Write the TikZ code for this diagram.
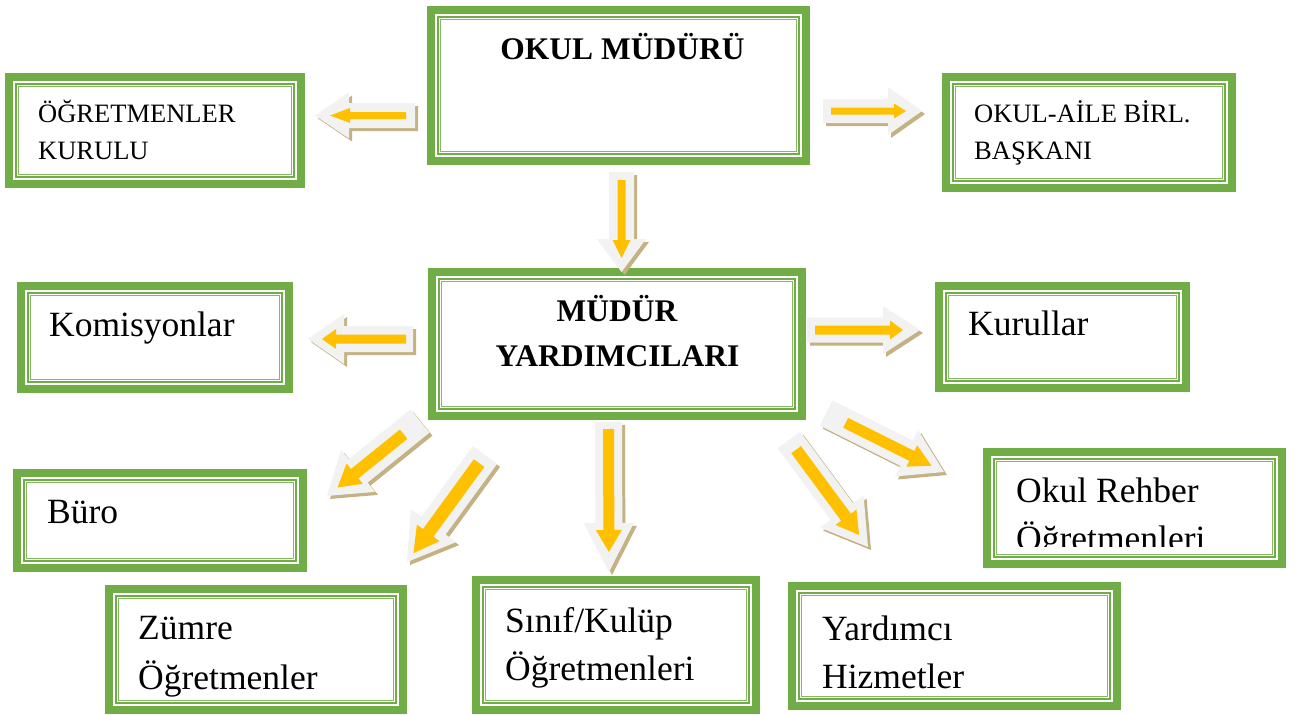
\documentclass[tikz,border=0pt]{standalone}
\usepackage{fontspec}
\setmainfont{Liberation Serif}
\usetikzlibrary{calc}
\definecolor{boxgreen}{HTML}{70AD47}
\definecolor{arrowgray}{HTML}{F2F2F2}
\definecolor{arrowyellow}{HTML}{FFC000}
\definecolor{arrowtan}{HTML}{C4B283}

% #1 tail, #2 tip, #3 start inset, #4 end inset, #5 shaft half, #6 head half, #7 head length, #8 style
\newcommand\blockpoly[8]{%
  \path[#8] let \p1=(#1), \p2=(#2),
    \n1={atan2(\y2-\y1,\x2-\x1)}, \n2={veclen(\x2-\x1,\y2-\y1)},
    \n3={(#3)*1pt}, \n4={\n2-(#4)*1pt}, \n5={\n2-(#4)*1pt-(#7)*1pt}, \n6={\n1+90}, \n7={\n1-90} in
    ($(\p1)+(\n1:\n3)+(\n6:#5pt)$) -- ($(\p1)+(\n1:\n5)+(\n6:#5pt)$) --
    ($(\p1)+(\n1:\n5)+(\n6:#6pt)$) -- ($(\p1)+(\n1:\n4)$) --
    ($(\p1)+(\n1:\n5)+(\n7:#6pt)$) -- ($(\p1)+(\n1:\n5)+(\n7:#5pt)$) --
    ($(\p1)+(\n1:\n3)+(\n7:#5pt)$) -- cycle;}
\newcommand\grayarrow[5]{%
  \blockpoly{#1}{#2}{0}{0}{#3}{#4}{#5}{fill=arrowtan, transform canvas={xshift=3pt,yshift=-3pt}}%
  \blockpoly{#1}{#2}{0}{0}{#3}{#4}{#5}{fill=arrowgray}}
\newcommand\yellowarrow[7]{\blockpoly{#1}{#2}{#3}{#4}{#5}{#6}{#7}{fill=arrowyellow}}

\tikzset{
  gbox/.style={draw=boxgreen, line width=8pt, fill=white, inner sep=0pt, outer sep=0pt,
    path picture={
      \draw[boxgreen, line width=2pt] ([shift={(7pt,-7pt)}]path picture bounding box.north west) rectangle ([shift={(-7pt,7pt)}]path picture bounding box.south east);
      \draw[boxgreen!85, line width=1pt] ([shift={(9.6pt,-9.6pt)}]path picture bounding box.north west) rectangle ([shift={(-9.6pt,9.6pt)}]path picture bounding box.south east);
    }},
  captxt/.style={anchor=base west, inner sep=0pt, font=\fontsize{26.5}{32}\selectfont},
  bodytxt/.style={anchor=base west, inner sep=0pt, font=\fontsize{35.5}{42}\selectfont},
  titletxt/.style={anchor=base, inner sep=0pt, font=\fontsize{31.5}{37}\selectfont\bfseries}
}

\begin{document}
\begin{tikzpicture}[x=1pt, y=-1pt]
\useasboundingbox (0,0) rectangle (1302,715);
\fill[white] (0,0) rectangle (1302,715);

% boxes
\node[gbox, minimum width=375pt, minimum height=151pt] (okm) at (618.5,85.5) {};
\node[gbox, minimum width=292pt, minimum height=107pt] (ogk) at (155,130.5) {};
\node[gbox, minimum width=286pt, minimum height=111pt] (oab) at (1089,132.5) {};
\node[gbox, minimum width=370pt, minimum height=144pt] (myd) at (617,344) {};
\node[gbox, minimum width=268pt, minimum height=103pt] (kom) at (155,337.5) {};
\node[gbox, minimum width=247pt, minimum height=102pt] (kur) at (1062.5,337) {};
\node[gbox, minimum width=286pt, minimum height=95pt] (bur) at (160,520.5) {};
\node[gbox, minimum width=294pt, minimum height=121pt] (zum) at (256,649.5) {};
\node[gbox, minimum width=280pt, minimum height=130pt] (sin) at (616,645) {};
\node[gbox, minimum width=325pt, minimum height=120pt] (yar) at (954.5,646) {};
\node[gbox, minimum width=295pt, minimum height=112pt] (reh) at (1134.5,508) {};

% texts
\node[titletxt] (t1) at (622.5,59) {OKUL MÜDÜRÜ};
\node[captxt] (t2a) at (38,122) {ÖĞRETMENLER};
\node[captxt] (t2b) at (38,159) {KURULU};
\node[captxt] (t3a) at (974,122) {OKUL-AİLE BİRL.};
\node[captxt] (t3b) at (974,159) {BAŞKANI};
\node[titletxt] (t4a) at (617,321) {MÜDÜR};
\node[titletxt] (t4b) at (617.5,366) {YARDIMCILARI};
\node[bodytxt] (t5) at (49,336) {Komisyonlar};
\node[bodytxt] (t6) at (968,335) {Kurullar};
\node[bodytxt] (t7) at (47,523) {Büro};
\node[bodytxt] (t8a) at (138,639) {Zümre};
\node[bodytxt] (t8b) at (138,689) {Öğretmenler};
\node[bodytxt] (t9a) at (505,632) {Sınıf/Kulüp};
\node[bodytxt] (t9b) at (505,680) {Öğretmenleri};
\node[bodytxt] (t10a) at (822,640) {Yardımcı};
\node[bodytxt] (t10b) at (822,688) {Hizmetler};
\node[bodytxt] (t11a) at (1016,502) {Okul Rehber};
\begin{scope}
  \clip (990,455) rectangle (1280,546);
  \node[bodytxt] (t11b) at (1016,550) {Öğretmenleri};
\end{scope}

% arrow end points
\coordinate (a1s) at (415,115.5);  \coordinate (a1e) at (315,115.5);
\coordinate (a2s) at (823,111);    \coordinate (a2e) at (922,111);
\coordinate (a3s) at (621.5,172);  \coordinate (a3e) at (621.5,272);
\coordinate (a4s) at (413,339);    \coordinate (a4e) at (308,339);
\coordinate (a5s) at (807,330);    \coordinate (a5e) at (920,330);
\coordinate (a6s) at (420,421);    \coordinate (a6e) at (327,496);
\coordinate (a7s) at (485,455);    \coordinate (a7e) at (407,562);
\coordinate (a8s) at (608.5,422);  \coordinate (a8e) at (609,572);
\coordinate (a9s) at (789,440);    \coordinate (a9e) at (868,547);
\coordinate (a10s) at (826,413);   \coordinate (a10e) at (944,472);

% block arrows
\grayarrow{a1s}{a1e}{12.5}{23}{34}   \yellowarrow{a1s}{a1e}{9}{15}{3.5}{7.5}{20}
\grayarrow{a2s}{a2e}{12}{24}{34}     \yellowarrow{a2s}{a2e}{8}{16}{3.5}{7.5}{12}
\grayarrow{a3s}{a3e}{12.5}{24.5}{33} \yellowarrow{a3s}{a3e}{8}{14}{4}{9}{18}
\grayarrow{a4s}{a4e}{13}{25}{36}     \yellowarrow{a4s}{a4e}{7}{14}{4.5}{10}{14}
\grayarrow{a5s}{a5e}{12.5}{24}{37}   \yellowarrow{a5s}{a5e}{8}{17}{4.5}{9.5}{13}
\grayarrow{a6s}{a6e}{15}{27}{40}     \yellowarrow{a6s}{a6e}{21}{13.5}{6}{13}{22}
\grayarrow{a7s}{a7e}{15}{28}{45}     \yellowarrow{a7s}{a7e}{10}{11}{6.5}{14}{25}
\grayarrow{a8s}{a8e}{13.5}{25}{49}   \yellowarrow{a8s}{a8e}{7}{20}{5.5}{13}{22}
\grayarrow{a9s}{a9e}{14}{27}{44}     \yellowarrow{a9s}{a9e}{12}{15}{6}{13}{22}
\grayarrow{a10s}{a10e}{14}{26}{42}   \yellowarrow{a10s}{a10e}{22}{14}{5.5}{12}{22}
\end{tikzpicture}
\end{document}
